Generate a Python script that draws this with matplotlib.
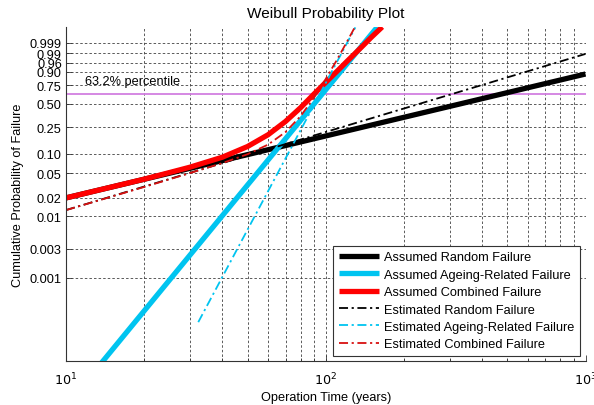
import numpy as np
import matplotlib
matplotlib.use('Agg')
import matplotlib.pyplot as plt
from matplotlib.ticker import FixedLocator, FixedFormatter, LogLocator, NullFormatter

plt.rcParams['font.family'] = ['Liberation Sans', 'DejaVu Sans']
plt.rcParams['font.size'] = 9.2

# operation time (years) and cumulative failure probability for each curve
t_rand_assumed = [10, 1000]
F_rand_assumed = [0.020, 0.88]

t_age_assumed = [13.5, 158]
F_age_assumed = [3.82e-5, 0.999996]

t_comb_assumed = [10, 20, 30, 40, 50, 60, 70, 80, 90, 100, 110, 120, 130, 140, 150, 165]
F_comb_assumed = [0.020, 0.040, 0.062, 0.089, 0.13, 0.195, 0.30, 0.45, 0.63,
                  0.787, 0.90, 0.964, 0.9903, 0.9982, 0.99979, 0.999996]

t_rand_est = [10, 1000]
F_rand_est = [0.0127, 0.989]

t_age_est = [32.3, 130]
F_age_est = [1.9e-4, 0.999995]

t_comb_est = [10, 20, 30, 40, 50, 60, 70, 80, 90, 100, 110, 120, 130]
F_comb_est = [0.0127, 0.030, 0.050, 0.072, 0.099, 0.139, 0.213, 0.353, 0.578,
              0.828, 0.970, 0.9989, 0.999997]

F_char = 0.632  # 63.2% percentile

y_ticks = [0.001, 0.003, 0.01, 0.02, 0.05, 0.10, 0.25, 0.50, 0.75, 0.90, 0.96, 0.99, 0.999]
y_ticklabels = ['0.001', '0.003', '0.01', '0.02', '0.05', '0.10', '0.25', '0.50',
                '0.75', '0.90', '0.96', '0.99', '0.999']
x_ticks = [10, 100, 1000]
x_ticklabels = [r'$10^1$', r'$10^2$', r'$10^3$']


def weibull_fwd(F):
    F = np.clip(np.asarray(F, dtype=float), 1e-300, 1 - 1e-16)
    return np.log10(-np.log1p(-F))


def weibull_inv(z):
    return -np.expm1(-10.0 ** np.asarray(z, dtype=float))


cyan = '#00c4f0'
fig = plt.figure(figsize=(5.94, 4.06), dpi=100)
ax = fig.add_axes([66 / 594, 44 / 406, 519.5 / 594, 334 / 406])
ax.set_xscale('log')
ax.set_yscale('function', functions=(weibull_fwd, weibull_inv))

ax.axhline(F_char, color='#d27fe0', lw=1.3, zorder=1.5)

ax.plot(t_rand_assumed, F_rand_assumed, color='black', lw=3.8, solid_capstyle='butt',
        label='Assumed Random Failure')
ax.plot(t_age_assumed, F_age_assumed, color=cyan, lw=3.8, solid_capstyle='butt',
        label='Assumed Ageing-Related Failure')
ax.plot(t_comb_assumed, F_comb_assumed, color='red', lw=3.8, solid_capstyle='butt',
        label='Assumed Combined Failure')
dashdot = (0, (5, 2, 1.2, 2))
ax.plot(t_rand_est, F_rand_est, color='black', lw=1.3, ls=dashdot,
        label='Estimated Random Failure')
ax.plot(t_age_est, F_age_est, color=cyan, lw=1.3, ls=dashdot,
        label='Estimated Ageing-Related Failure')
ax.plot(t_comb_est, F_comb_est, color='#d81010', lw=1.3, ls=dashdot,
        label='Estimated Combined Failure')

ax.set_xlim(10, 1000)
ax.set_ylim(weibull_inv(-4.355), weibull_inv(1.093))

ax.xaxis.set_major_locator(FixedLocator(x_ticks))
ax.xaxis.set_major_formatter(FixedFormatter(x_ticklabels))
ax.xaxis.set_minor_locator(LogLocator(base=10, subs=range(2, 10)))
ax.xaxis.set_minor_formatter(NullFormatter())
ax.yaxis.set_major_locator(FixedLocator(y_ticks))
ax.yaxis.set_major_formatter(FixedFormatter(y_ticklabels))
ax.yaxis.set_minor_locator(FixedLocator([]))

grid_ls = (0, (3, 2.5))
ax.grid(True, which='major', axis='both', color='0.25', lw=0.6, ls=grid_ls)
ax.grid(True, which='minor', axis='x', color='0.25', lw=0.6, ls=grid_ls)
ax.set_axisbelow(True)

ax.spines['top'].set_visible(False)
ax.spines['right'].set_visible(False)
for s in ('left', 'bottom'):
    ax.spines[s].set_linewidth(0.8)
    ax.spines[s].set_color('0.2')
ax.tick_params(which='both', direction='in', width=0.6, color='0.2')
ax.tick_params(which='major', length=4)
ax.tick_params(which='minor', length=2.5)
ax.tick_params(axis='x', pad=7)
ax.tick_params(axis='y', pad=3)

ax.text(0.0366, 0.838, '63.2% percentile', transform=ax.transAxes, va='center', ha='left')

ax.set_title('Weibull Probability Plot', pad=7)
ax.set_xlabel('Operation Time (years)', labelpad=3)
ax.set_ylabel('Cumulative Probability of Failure', labelpad=4)

leg = ax.legend(loc='lower right', bbox_to_anchor=(0.989, 0.015), borderaxespad=0,
                fancybox=False, framealpha=1, edgecolor='0.2', handlelength=3.1,
                handletextpad=0.4, labelspacing=0.42, borderpad=0.45)
leg.get_frame().set_linewidth(0.8)

fig.savefig('out.png', dpi=100)
